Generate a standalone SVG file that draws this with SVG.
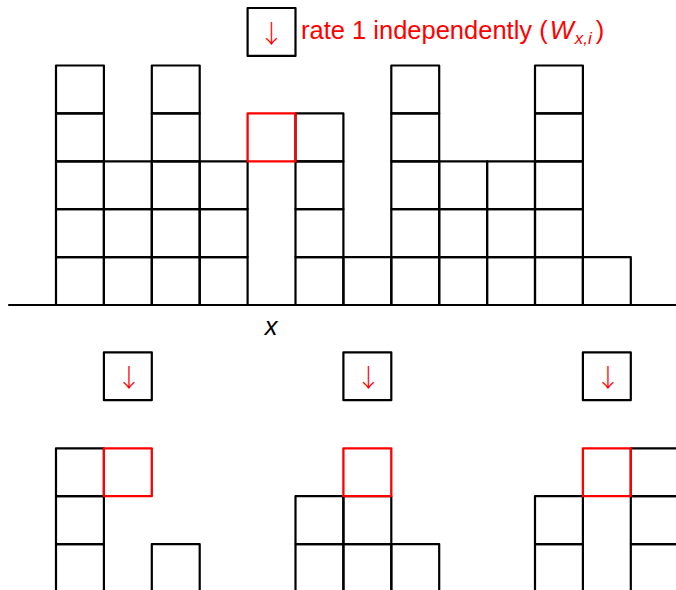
<svg xmlns="http://www.w3.org/2000/svg" width="676" height="590" viewBox="0 0 676 590">
<style>
.c{fill:none;stroke:#000;stroke-width:2.2;stroke-linejoin:round;stroke-linecap:round}
.r{fill:none;stroke:#ff0000;stroke-width:2.3;stroke-linejoin:round;stroke-linecap:round}
.t{font-family:"Liberation Sans","DejaVu Sans",sans-serif;fill:#ff0000;font-size:25.5px}
.a{font-family:"Noto Sans CJK JP","Noto Sans CJK SC",sans-serif;font-weight:300;fill:#ff0000;font-size:25px;text-anchor:middle}
</style>
<defs>
<rect id="cell" width="47.9" height="47.9"/>
</defs>
<rect width="676" height="590" fill="#fff"/>
<g id="connectors">
<line class="c" x1="9" y1="305" x2="676" y2="305"/>
</g>
<g id="top-grid" class="c">
<g id="col0"><use href="#cell" x="56" y="257.1"/><use href="#cell" x="56" y="209.2"/><use href="#cell" x="56" y="161.3"/><use href="#cell" x="56" y="113.4"/><use href="#cell" x="56" y="65.5"/></g>
<g id="col1"><use href="#cell" x="103.9" y="257.1"/><use href="#cell" x="103.9" y="209.2"/><use href="#cell" x="103.9" y="161.3"/></g>
<g id="col2"><use href="#cell" x="151.8" y="257.1"/><use href="#cell" x="151.8" y="209.2"/><use href="#cell" x="151.8" y="161.3"/><use href="#cell" x="151.8" y="113.4"/><use href="#cell" x="151.8" y="65.5"/></g>
<g id="col3"><use href="#cell" x="199.7" y="257.1"/><use href="#cell" x="199.7" y="209.2"/><use href="#cell" x="199.7" y="161.3"/></g>
<g id="col5"><use href="#cell" x="295.5" y="257.1"/><use href="#cell" x="295.5" y="209.2"/><use href="#cell" x="295.5" y="161.3"/><use href="#cell" x="295.5" y="113.4"/></g>
<g id="col6"><use href="#cell" x="343.4" y="257.1"/></g>
<g id="col7"><use href="#cell" x="391.3" y="257.1"/><use href="#cell" x="391.3" y="209.2"/><use href="#cell" x="391.3" y="161.3"/><use href="#cell" x="391.3" y="113.4"/><use href="#cell" x="391.3" y="65.5"/></g>
<g id="col8"><use href="#cell" x="439.2" y="257.1"/><use href="#cell" x="439.2" y="209.2"/><use href="#cell" x="439.2" y="161.3"/></g>
<g id="col9"><use href="#cell" x="487.1" y="257.1"/><use href="#cell" x="487.1" y="209.2"/><use href="#cell" x="487.1" y="161.3"/></g>
<g id="col10"><use href="#cell" x="535" y="257.1"/><use href="#cell" x="535" y="209.2"/><use href="#cell" x="535" y="161.3"/><use href="#cell" x="535" y="113.4"/><use href="#cell" x="535" y="65.5"/></g>
<g id="col11"><use href="#cell" x="582.9" y="257.1"/></g>
</g>
<g id="top-red" class="r"><use href="#cell" x="247.6" y="113.4"/></g>
<g id="top-box"><use href="#cell" class="c" x="247.6" y="8"/><text class="a" x="271.6" y="43">↓</text></g>
<g id="top-label"><text class="t" x="301" y="38.5">rate 1 independently (<tspan font-style="italic" dx="2">W</tspan><tspan font-style="italic" font-size="17" dy="5" dx="1">x,i</tspan><tspan dy="-5" dx="4">)</tspan></text></g>
<g id="x-label"><text class="t" x="271" y="335" style="fill:#000;font-style:italic" text-anchor="middle">x</text></g>
<g id="box-left"><use href="#cell" class="c" x="103.9" y="352.3"/><text class="a" x="128.9" y="387">↓</text></g>
<g id="box-mid"><use href="#cell" class="c" x="343.4" y="352.3"/><text class="a" x="368.4" y="387">↓</text></g>
<g id="box-right"><use href="#cell" class="c" x="582.9" y="352.3"/><text class="a" x="607.9" y="387">↓</text></g>
<g id="bottom-left" class="c">
<use href="#cell" x="56" y="448.3"/><use href="#cell" x="56" y="496.2"/><use href="#cell" x="56" y="544.1"/>
<use href="#cell" x="151.8" y="544.1"/>
<use href="#cell" class="r" x="103.9" y="448.3"/>
</g>
<g id="bottom-mid" class="c">
<use href="#cell" x="295.5" y="496.2"/><use href="#cell" x="295.5" y="544.1"/>
<use href="#cell" x="343.4" y="496.2"/><use href="#cell" x="343.4" y="544.1"/>
<use href="#cell" x="391.3" y="544.1"/>
<use href="#cell" class="r" x="343.4" y="448.3"/>
</g>
<g id="bottom-right" class="c">
<use href="#cell" x="535" y="496.2"/><use href="#cell" x="535" y="544.1"/>
<use href="#cell" x="630.8" y="448.3"/><use href="#cell" x="630.8" y="496.2"/><use href="#cell" x="630.8" y="544.1"/>
<use href="#cell" class="r" x="582.9" y="448.3"/>
</g>
</svg>
